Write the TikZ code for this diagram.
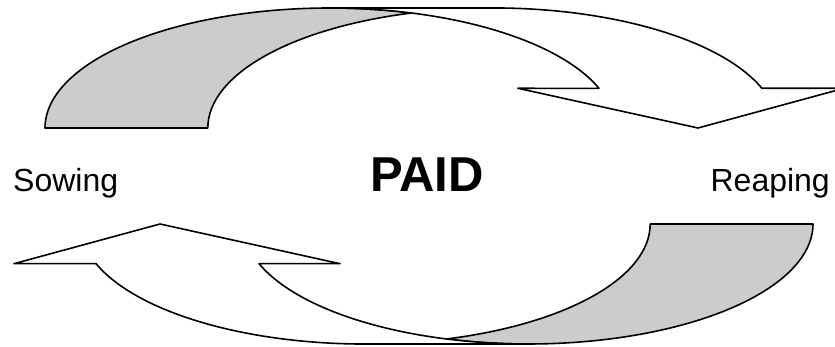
\documentclass[tikz,border=0pt]{standalone}
\usepackage{fontspec}
\setmainfont{Liberation Sans}
\usetikzlibrary{positioning}
\definecolor{backgray}{RGB}{204,204,204}
\tikzset{
  band/.style={draw=black, line width=1.6pt, line join=round},
  sidetext/.style={font=\fontsize{32}{38}\selectfont, inner sep=0pt},
  cyclearrow/.pic={
    \draw[band, fill=backgray] (45,219)
      arc[start angle=180, end angle=73.4, x radius=285pt, y radius=120pt]
      arc[start angle=106.6, end angle=180, x radius=285pt, y radius=120pt] -- cycle;
    \draw[band, fill=white] (411.4,334)
      arc[start angle=73.4, end angle=19.3, x radius=285pt, y radius=120pt]
      -- (518,258.7) -- (698,219) -- (844,258.7) -- (761.9,258.7)
      arc[start angle=19.3, end angle=90, x radius=285pt, y radius=120pt]
      -- (330,339)
      arc[start angle=90, end angle=73.4, x radius=285pt, y radius=120pt] -- cycle;
  }
}

\begin{document}
\begin{tikzpicture}[x=1pt, y=1pt]
  \useasboundingbox (0,0) rectangle (835,347);
  \clip (0,0) rectangle (835,347);
  \pic at (0,0) {cyclearrow};
  \pic[rotate=180] at (858,342) {cyclearrow};
  \node[sidetext, anchor=base west] (sowing) at (13,155) {Sowing};
  \node[sidetext, anchor=base east] (reaping) at (830,155) {Reaping};
  \node[font=\fontsize{49}{58}\selectfont\bfseries, inner sep=0pt, anchor=base] (paid) at (427,155) {PAID};
\end{tikzpicture}
\end{document}
